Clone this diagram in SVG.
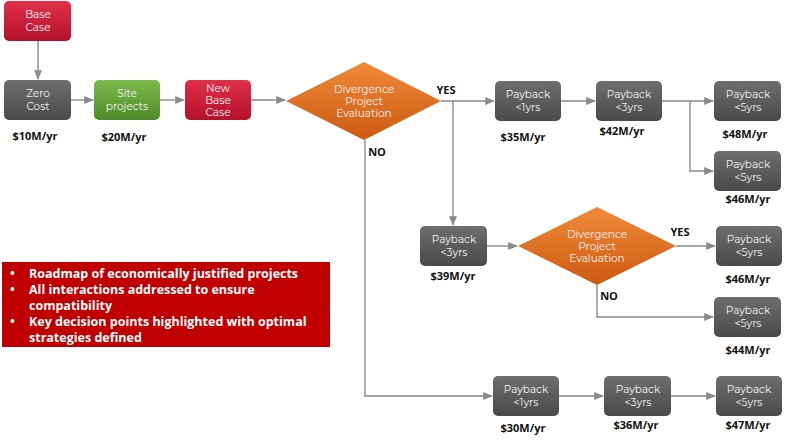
<svg xmlns="http://www.w3.org/2000/svg" width="800" height="440" viewBox="0 0 800 440">
<style>
.g{fill:url(#gg)}.r{fill:url(#gr)}.gr{fill:url(#ggr)}.d{fill:url(#go)}
.t{font-family:"Montserrat","Open Sans","Liberation Sans",sans-serif;font-size:10.5px;fill:#f3f3f3;text-anchor:middle}
.v{font-family:"Open Sans","Liberation Sans",sans-serif;font-size:11px;font-weight:bold;fill:#111;text-anchor:middle}
.c{fill:none;stroke:#8a8a8a;stroke-width:1.4}
.b{font-family:"Open Sans","Liberation Sans",sans-serif;font-size:12.5px;font-weight:bold;fill:#fff}
</style>
<defs>
<linearGradient id="gg" x1="0" y1="0" x2="0" y2="1"><stop offset="0" stop-color="#6e6e6e"/><stop offset="1" stop-color="#4a4a4a"/></linearGradient>
<linearGradient id="gr" x1="0" y1="0" x2="0" y2="1"><stop offset="0" stop-color="#e0304a"/><stop offset="1" stop-color="#b5102a"/></linearGradient>
<linearGradient id="ggr" x1="0" y1="0" x2="0" y2="1"><stop offset="0" stop-color="#7cba4a"/><stop offset="1" stop-color="#4f8a2a"/></linearGradient>
<linearGradient id="go" x1="0" y1="0" x2="0" y2="1"><stop offset="0" stop-color="#f08a3a"/><stop offset="1" stop-color="#cc5a10"/></linearGradient>
<marker id="a" viewBox="0 0 10 10" refX="9" refY="5" markerWidth="7" markerHeight="7" orient="auto"><path d="M0 1L10 5L0 9z" fill="#8a8a8a"/></marker>
</defs>
<g id="connectors">
<path class="c" d="M38 41V79" marker-end="url(#a)"/>
<path class="c" d="M71 100H93" marker-end="url(#a)"/>
<path class="c" d="M160 100H184" marker-end="url(#a)"/>
<path class="c" d="M251 100H285" marker-end="url(#a)"/>
<path class="c" d="M441 101H494" marker-end="url(#a)"/>
<path class="c" d="M453 101V225" marker-end="url(#a)"/>
<path class="c" d="M365 140V396H492" marker-end="url(#a)"/>
<path class="c" d="M561 101H595" marker-end="url(#a)"/>
<path class="c" d="M662 101H713" marker-end="url(#a)"/>
<path class="c" d="M690 101V171H713" marker-end="url(#a)"/>
<path class="c" d="M487 246H517" marker-end="url(#a)"/>
<path class="c" d="M676 246H715" marker-end="url(#a)"/>
<path class="c" d="M597 285V317H713" marker-end="url(#a)"/>
<path class="c" d="M559 396H603" marker-end="url(#a)"/>
<path class="c" d="M671 396H715" marker-end="url(#a)"/>
</g>
<g id="base"><rect class="r" x="4" y="1" width="67" height="40" rx="5"/><text class="t" x="38" y="18">Base</text><text class="t" x="38" y="31">Case</text></g>
<g id="zero"><rect class="g" x="4" y="80" width="67" height="40" rx="5"/><text class="t" x="38" y="97">Zero</text><text class="t" x="38" y="110">Cost</text><text class="v" x="35" y="140">$10M/yr</text></g>
<g id="site"><rect class="gr" x="94" y="80" width="66" height="40" rx="5"/><text class="t" x="127" y="97">Site</text><text class="t" x="127" y="110">projects</text><text class="v" x="124" y="141">$20M/yr</text></g>
<g id="newbase"><rect class="r" x="185" y="80" width="66" height="40" rx="5"/><text class="t" x="218" y="92">New</text><text class="t" x="218" y="104">Base</text><text class="t" x="218" y="116">Case</text></g>
<g id="div1"><path class="d" d="M286 101L364 62L441 101L364 140z"/><text class="t" x="364" y="93">Divergence</text><text class="t" x="364" y="105">Project</text><text class="t" x="364" y="117">Evaluation</text><text class="v" x="446" y="94">YES</text><text class="v" x="377" y="156">NO</text></g>
<g id="p1"><rect class="g" x="495" y="81" width="66" height="40" rx="5"/><text class="t" x="528" y="98">Payback</text><text class="t" x="528" y="111">&lt;1yrs</text><text class="v" x="523" y="141">$35M/yr</text></g>
<g id="p2"><rect class="g" x="596" y="81" width="66" height="40" rx="5"/><text class="t" x="629" y="98">Payback</text><text class="t" x="629" y="111">&lt;3yrs</text><text class="v" x="622" y="135">$42M/yr</text></g>
<g id="p3"><rect class="g" x="714" y="81" width="67" height="40" rx="5"/><text class="t" x="748" y="98">Payback</text><text class="t" x="748" y="111">&lt;5yrs</text><text class="v" x="745" y="138">$48M/yr</text></g>
<g id="p4"><rect class="g" x="714" y="151" width="67" height="40" rx="5"/><text class="t" x="748" y="168">Payback</text><text class="t" x="748" y="181">&lt;5yrs</text><text class="v" x="748" y="203">$46M/yr</text></g>
<g id="p5"><rect class="g" x="420" y="226" width="67" height="40" rx="5"/><text class="t" x="454" y="243">Payback</text><text class="t" x="454" y="256">&lt;3yrs</text><text class="v" x="453" y="280">$39M/yr</text></g>
<g id="div2"><path class="d" d="M518 246L597 207L676 246L597 285z"/><text class="t" x="597" y="238">Divergence</text><text class="t" x="597" y="250">Project</text><text class="t" x="597" y="262">Evaluation</text><text class="v" x="680" y="236">YES</text><text class="v" x="609" y="300">NO</text></g>
<g id="p6"><rect class="g" x="716" y="226" width="66" height="40" rx="5"/><text class="t" x="749" y="243">Payback</text><text class="t" x="749" y="256">&lt;5yrs</text><text class="v" x="748" y="283">$46M/yr</text></g>
<g id="p7"><rect class="g" x="714" y="297" width="67" height="40" rx="5"/><text class="t" x="748" y="314">Payback</text><text class="t" x="748" y="327">&lt;5yrs</text><text class="v" x="748" y="354">$44M/yr</text></g>
<g id="p8"><rect class="g" x="493" y="376" width="66" height="40" rx="5"/><text class="t" x="526" y="393">Payback</text><text class="t" x="526" y="406">&lt;1yrs</text><text class="v" x="523" y="432">$30M/yr</text></g>
<g id="p9"><rect class="g" x="604" y="376" width="67" height="40" rx="5"/><text class="t" x="638" y="393">Payback</text><text class="t" x="638" y="406">&lt;3yrs</text><text class="v" x="636" y="429">$36M/yr</text></g>
<g id="p10"><rect class="g" x="716" y="376" width="66" height="40" rx="5"/><text class="t" x="749" y="393">Payback</text><text class="t" x="749" y="406">&lt;5yrs</text><text class="v" x="748" y="429">$47M/yr</text></g>
<g id="summary"><rect x="2" y="262" width="328" height="85" fill="#c00000"/>
<text class="b" x="10" y="278">•</text><text class="b" x="29" y="278">Roadmap of economically justified projects</text>
<text class="b" x="10" y="294">•</text><text class="b" x="29" y="294">All interactions addressed to ensure</text>
<text class="b" x="29" y="310">compatibility</text>
<text class="b" x="10" y="326">•</text><text class="b" x="29" y="326">Key decision points highlighted with optimal</text>
<text class="b" x="29" y="342">strategies defined</text></g>
</svg>
